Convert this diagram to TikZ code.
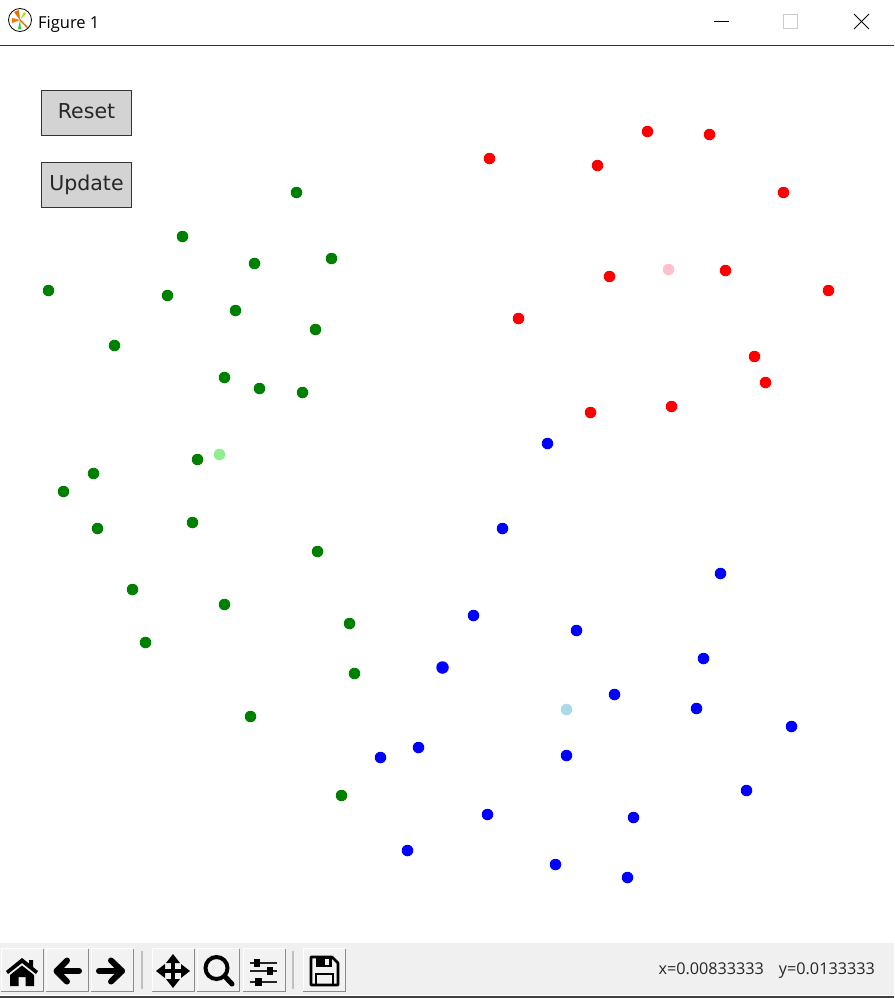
\documentclass[tikz,border=0pt]{standalone}
\usepackage{fontspec}
\setmainfont{DejaVu Sans}
\newfontfamily\winfont{Open Sans}
\usepackage{tikz}

\definecolor{btngray}{HTML}{D3D3D3}
\definecolor{barbg}{HTML}{F0F0F0}
\definecolor{toolface}{HTML}{F2F2F2}
\definecolor{bluedot}{HTML}{0000FF}
\definecolor{greendot}{HTML}{008000}
\definecolor{lgreendot}{HTML}{90EE90}
\definecolor{lbluedot}{HTML}{ADD8E6}
\definecolor{pinkdot}{HTML}{FFC0CB}

\tikzset{
	dot/.style={shape=circle,inner sep=0pt,minimum size=11.5pt,xshift=0.5pt,yshift=-0.5pt},
	gdot/.style={dot,fill=greendot},
	rdot/.style={dot,fill=red},
	bdot/.style={dot,fill=bluedot},
	pushbtn/.style={shape=rectangle,draw=black!80,fill=btngray,line width=1.6pt,inner sep=0pt,minimum width=90pt,minimum height=45pt,text height=15.2pt,text depth=4.9pt,font=\fontsize{20.5}{24}\selectfont,text=black!85},
	toolbtn/.style={shape=rectangle,fill=toolface,draw=none,inner sep=0pt,minimum width=42pt,minimum height=43pt},
	sepbar/.style={draw=black!25,line width=1.2pt},
	icon/.style={draw=black,line width=6pt,line join=round},
	slider/.style={draw=black!85,line width=2.2pt},
}

\begin{document}
\begin{tikzpicture}[x=1pt,y=-1pt]
	
	\useasboundingbox (0,0) rectangle (894,998);
	\fill[white] (0,0) rectangle (894,998);
	
	% title bar
	\node[shape=circle,draw=black,fill=white,line width=0.8pt,inner sep=0pt,minimum size=23pt] (logo) at (20, 20) {};
	\fill[orange!90!red] (logo.center) -- (12,18) -- (12,23) -- cycle;
	\fill[orange!90!black] (logo.center) -- (14,12) -- (19,10) -- cycle;
	\fill[green!60!gray] (logo.center) -- (18,29) -- (21,29) -- cycle;
	\fill[yellow!70!green] (logo.center) -- (24,12) -- (26,14) -- cycle;
	\draw[orange!80!black,line width=1.2pt] (logo.center) -- (28,28);
	\node[anchor=west,inner sep=0pt,font=\winfont\fontsize{16.5}{19}\selectfont] (title) at (38, 24) {Figure 1};
	\coordinate (minl) at (714, 21);
	\coordinate (minr) at (729, 21);
	\draw[black,line width=0.9pt] (minl) -- (minr);
	\node[shape=rectangle,draw=black!20,line width=0.9pt,inner sep=0pt,minimum size=14pt] (maxbox) at (790.5, 21.5) {};
	\coordinate (xa) at (854, 14);
	\coordinate (xb) at (869, 29);
	\coordinate (xc) at (869, 14);
	\coordinate (xd) at (854, 29);
	\draw[black,line width=0.9pt] (xa) -- (xb);
	\draw[black,line width=0.9pt] (xc) -- (xd);
	\coordinate (barl) at (0, 45.5);
	\coordinate (barr) at (894, 45.5);
	\draw[black!80,line width=1.8pt] (barl) -- (barr);
	
	% buttons
	\node[pushbtn] (reset) at (86.5, 113) {Reset};
	\node[pushbtn] (update) at (86.5, 185) {Update};
	
	% green points
	\node[gdot] (g1) at (296, 192) {};
	\node[gdot] (g2) at (182, 236) {};
	\node[gdot] (g3) at (254, 263) {};
	\node[gdot] (g4) at (331, 258) {};
	\node[gdot] (g5) at (48, 290) {};
	\node[gdot] (g6) at (167, 295) {};
	\node[gdot] (g7) at (235, 310) {};
	\node[gdot] (g8) at (315, 329) {};
	\node[gdot] (g9) at (114, 345) {};
	\node[gdot] (g10) at (224, 377) {};
	\node[gdot] (g11) at (259, 388) {};
	\node[gdot] (g12) at (302, 392) {};
	\node[gdot] (g13) at (197, 459) {};
	\node[gdot] (g14) at (93, 473) {};
	\node[gdot] (g15) at (63, 491) {};
	\node[gdot] (g16) at (97, 528) {};
	\node[gdot] (g17) at (192, 522) {};
	\node[gdot] (g18) at (317, 551) {};
	\node[gdot] (g19) at (132, 589) {};
	\node[gdot] (g20) at (224, 604) {};
	\node[gdot] (g21) at (349, 623) {};
	\node[gdot] (g22) at (145, 642) {};
	\node[gdot] (g23) at (354, 673) {};
	\node[gdot] (g24) at (250, 716) {};
	\node[gdot] (g25) at (341, 795) {};
	\node[dot,fill=lgreendot] (gc) at (219, 454) {};
	
	% red points
	\node[rdot] (r1) at (489, 158) {};
	\node[rdot] (r2) at (597, 165) {};
	\node[rdot] (r3) at (647, 131) {};
	\node[rdot] (r4) at (709, 134) {};
	\node[rdot] (r5) at (783, 192) {};
	\node[rdot] (r6) at (609, 276) {};
	\node[rdot] (r7) at (725, 270) {};
	\node[rdot] (r8) at (828, 290) {};
	\node[rdot] (r9) at (518, 318) {};
	\node[rdot] (r10) at (754, 356) {};
	\node[rdot] (r11) at (765, 382) {};
	\node[rdot] (r12) at (590, 412) {};
	\node[rdot] (r13) at (671, 406) {};
	\node[dot,fill=pinkdot] (rc) at (668, 269) {};
	
	% blue points
	\node[bdot] (b1) at (547, 443) {};
	\node[bdot] (b2) at (502, 528) {};
	\node[bdot] (b3) at (720, 573) {};
	\node[bdot] (b4) at (473, 615) {};
	\node[bdot] (b5) at (576, 630) {};
	\node[bdot,minimum size=12.5pt] (b6) at (442, 667) {};
	\node[bdot] (b7) at (703, 658) {};
	\node[bdot] (b8) at (614, 694) {};
	\node[bdot] (b9) at (696, 708) {};
	\node[bdot] (b10) at (791, 726) {};
	\node[bdot] (b11) at (566, 755) {};
	\node[bdot] (b12) at (418, 747) {};
	\node[bdot] (b13) at (380, 757) {};
	\node[bdot] (b14) at (746, 790) {};
	\node[bdot] (b15) at (487, 814) {};
	\node[bdot] (b16) at (633, 817) {};
	\node[bdot] (b17) at (407, 850) {};
	\node[bdot] (b18) at (555, 864) {};
	\node[bdot] (b19) at (627, 877) {};
	\node[dot,fill=lbluedot] (bc) at (566, 709) {};
	
	% toolbar
	\fill[barbg] (0,943) rectangle (894,995);
	\fill[black!75] (0,995.5) rectangle (894,998);
	\foreach \name/\xpos in {home/22, back/67, forward/112, pan/173, zoom/218, subplots/264, save/324}{
		\node[toolbtn] (\name) at (\xpos, 970) {};
		\draw[black!45,line width=1pt] (\xpos-21,991.5) -- (\xpos+21,991.5) -- (\xpos+21,948.5);
		\draw[white,line width=1pt] (\xpos-21,991) -- (\xpos-21,948.5) -- (\xpos+21,948.5);
	}
	\draw[sepbar] (142,951) -- (142,989);
	\draw[sepbar] (293,951) -- (293,989);
	
	% home
	\fill[black] (6,971) -- (22,958) -- (29,963.5) -- (29,960) -- (33,960) -- (33,967) -- (38,971) -- (36,974) -- (22,963) -- (8,974) -- cycle;
	\fill[black] (10,975) -- (22,965.5) -- (34,975) -- (34,986) -- (25.5,986) -- (25.5,977) -- (18.5,977) -- (18.5,986) -- (10,986) -- cycle;
	
	% back and forward
	\draw[icon,line cap=round] (79,971) -- (57,971);
	\draw[icon,line cap=round] (67,960.5) -- (56.5,971) -- (67,981.5);
	\draw[icon,line cap=round] (99,971) -- (122,971);
	\draw[icon,line cap=round] (111,960.5) -- (122,971) -- (111,981.5);
	
	% pan
	\draw[black,line width=3.6pt] (160,971) -- (186,971);
	\draw[black,line width=3.6pt] (173,958) -- (173,984);
	\fill[black] (173,954) -- (180,963) -- (166,963) -- cycle;
	\fill[black] (173,988) -- (180,979) -- (166,979) -- cycle;
	\fill[black] (156,971) -- (165,964) -- (165,978) -- cycle;
	\fill[black] (190,971) -- (181,964) -- (181,978) -- cycle;
	
	% zoom
	\draw[black,line width=4pt] (216.5,968) circle (11pt);
	\draw[black,line width=5pt,line cap=round] (225,976.5) -- (232,984);
	
	% subplots
	\draw[slider] (250,963) -- (277,963);
	\draw[slider] (250,971) -- (277,971);
	\draw[slider] (250,982) -- (277,982);
	\fill[black] (253.5,959) rectangle (260,967);
	\fill[black] (267,967) rectangle (273,975);
	\fill[black] (255,978) rectangle (262,986);
	
	% save
	\draw[black,line width=2.6pt,line join=round] (311,957) -- (332,957) -- (338,963) -- (338,985) -- (311,985) -- cycle;
	\fill[black] (316,957) rectangle (332,966.5);
	\fill[toolface] (325,959) rectangle (329,964.5);
	\draw[black,line width=2pt] (316,985) -- (316,974) -- (333,974) -- (333,985);
	
	% status text
	\node[anchor=east,inner sep=0pt,font=\winfont\fontsize{16.2}{18}\selectfont,text=black!85] (status) at (875, 970.5) {x=0.00833333\hspace{15pt}y=0.0133333};
	
\end{tikzpicture}
\end{document}
